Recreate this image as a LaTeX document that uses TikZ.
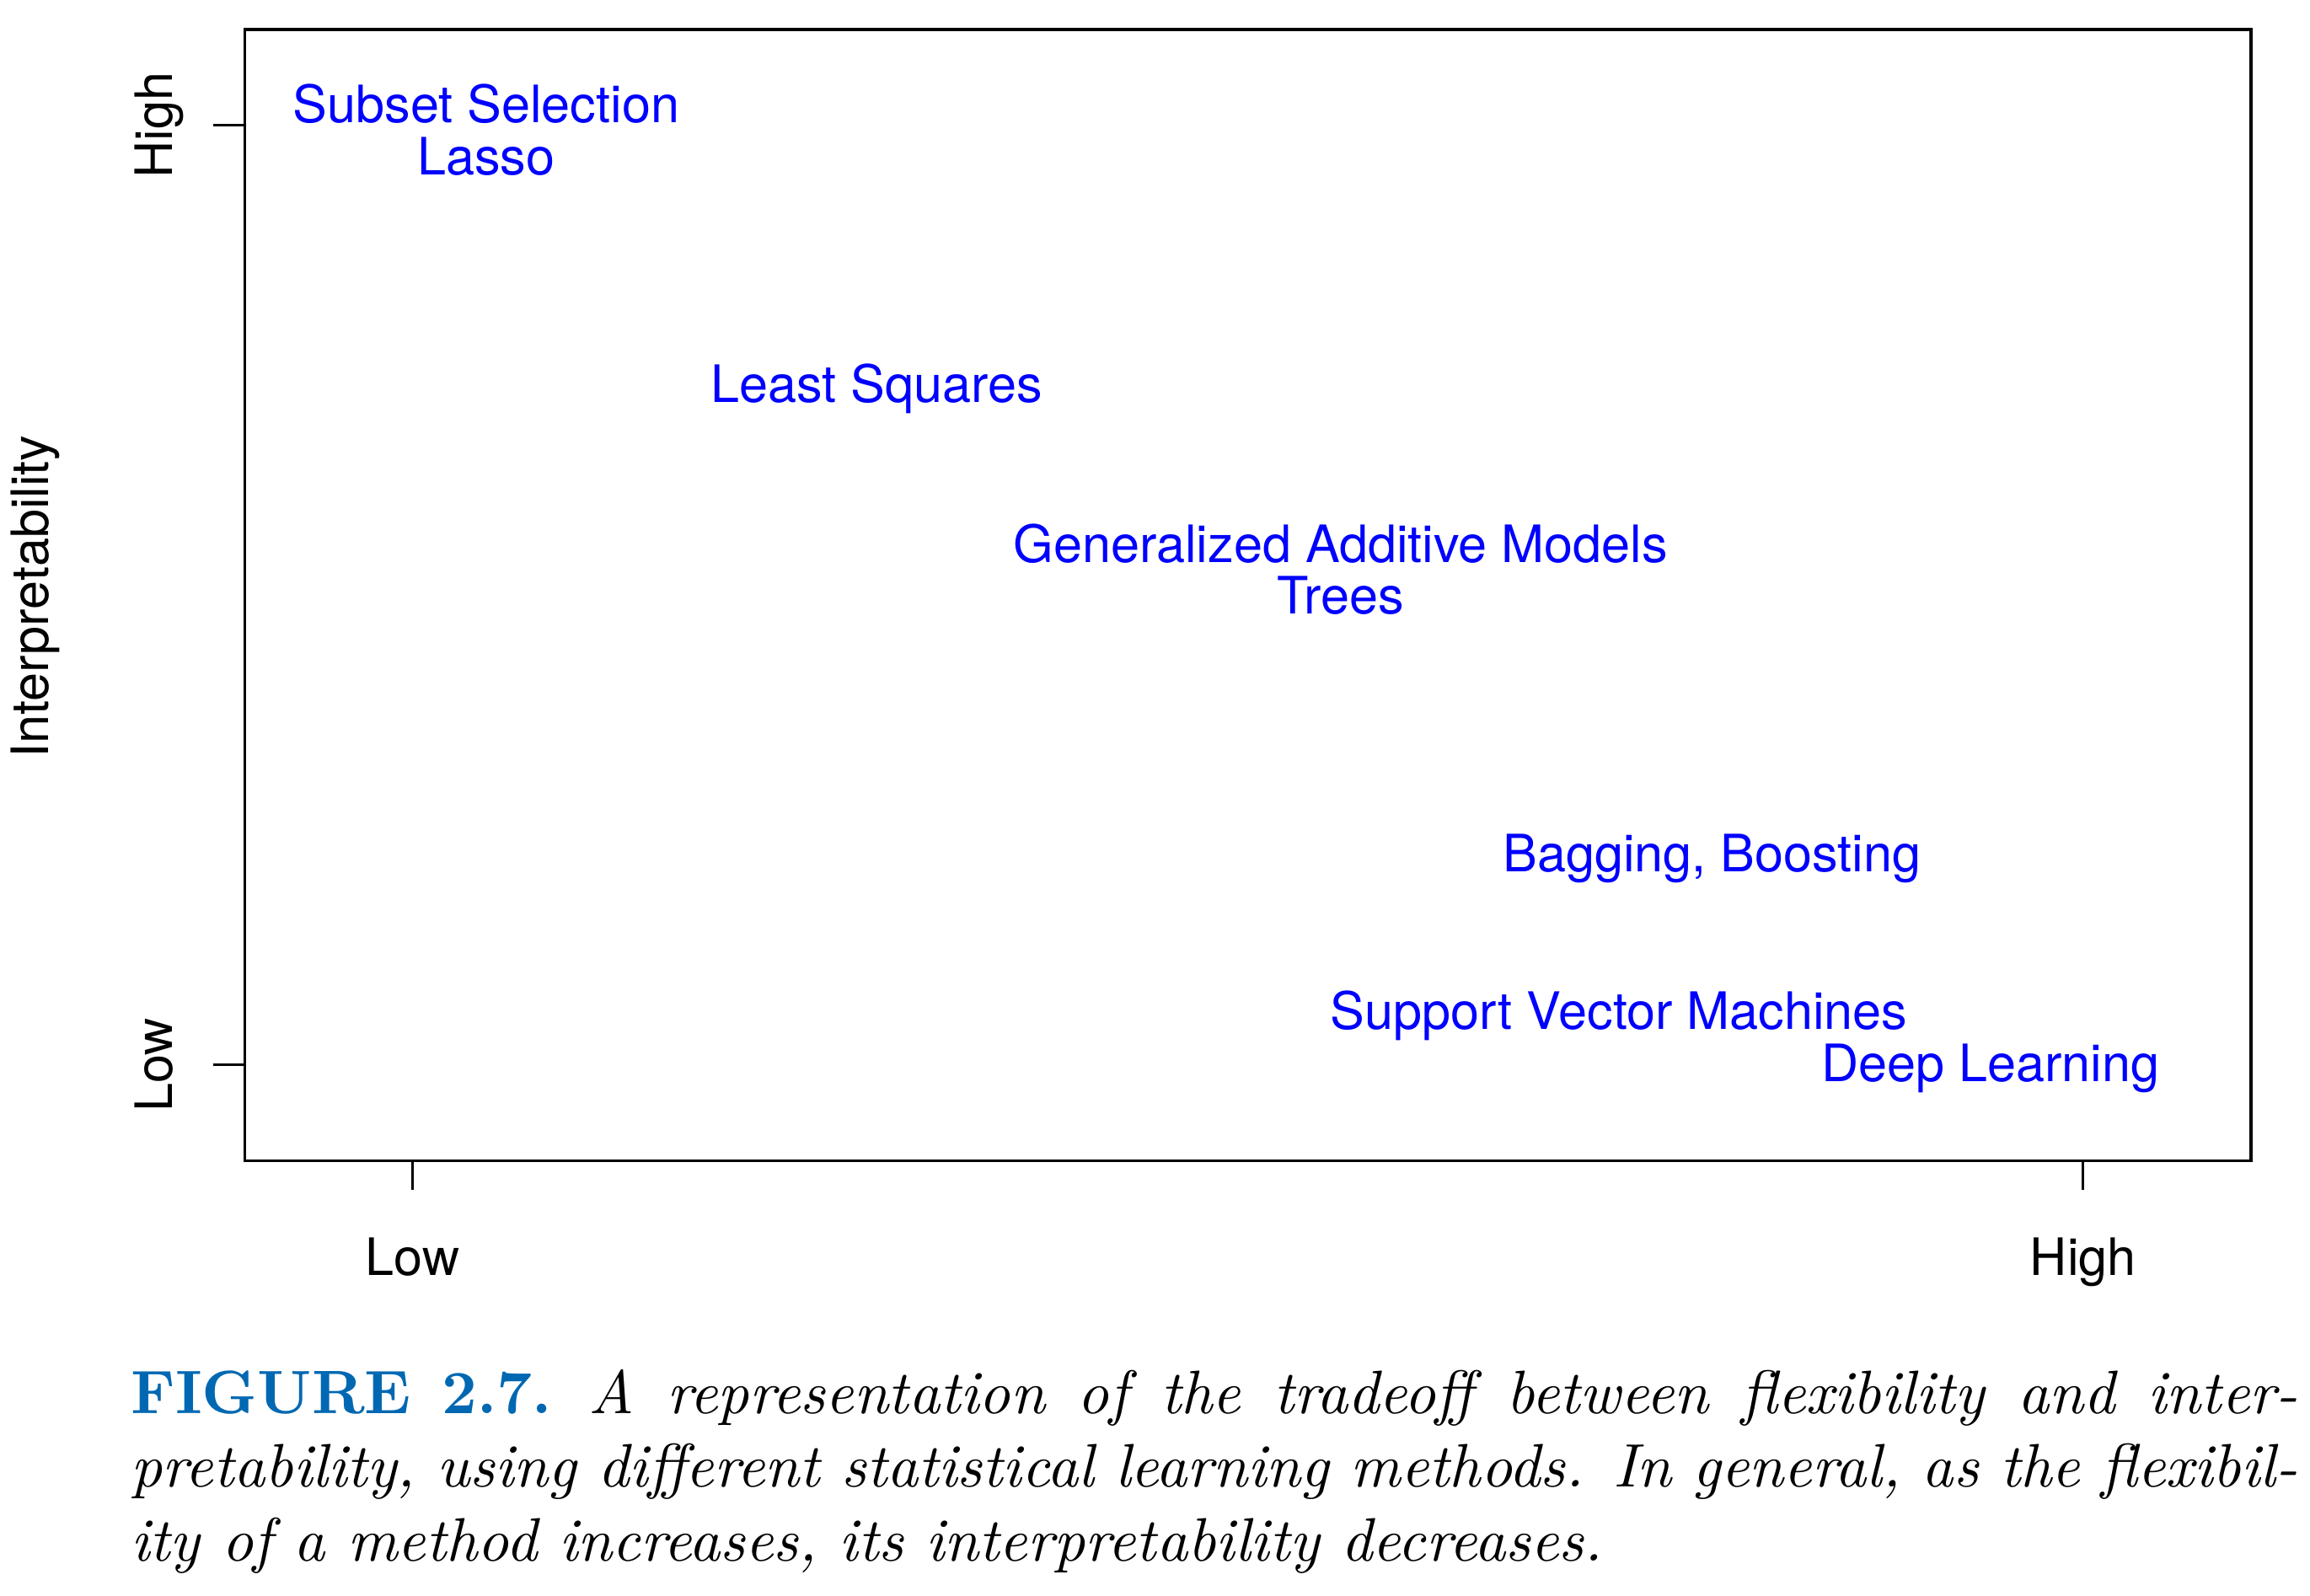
\documentclass[tikz,border=0pt]{standalone}
\usepackage{fontspec}
\newfontfamily\plotfont{TeX Gyre Heros}
\definecolor{figblue}{RGB}{0,104,178}
\begin{document}
\begin{tikzpicture}[
    x=0.24pt,
    y=-0.24pt,
    frame/.style={
        draw=black,
        line width=0.45pt
    },
    method/.style={
        font=\plotfont\fontsize{8.4}{10}\selectfont,
        text=blue,
        inner sep=0pt,
        anchor=base
    },
    axlabel/.style={
        font=\plotfont\fontsize{8.4}{10}\selectfont,
        inner sep=0pt,
        anchor=base
    },
    caption/.style={
        font=\fontsize{10}{12}\selectfont,
        inner sep=0pt,
        anchor=north west,
        text width=353pt,
        align=justify
    }
]
\useasboundingbox (0,0) rectangle (1568,1083);

\draw[frame] (166,20) rectangle (1528,788);
\draw[frame] (145,85) -- (166,85);
\draw[frame] (145,723) -- (166,723);
\draw[frame] (280,788) -- (280,808);
\draw[frame] (1414,788) -- (1414,808);

\node[axlabel, rotate=90] (yhigh) at (117,85) {High};
\node[axlabel, rotate=90] (ylow) at (117,723) {Low};
\node[axlabel, rotate=90] (ylabel) at (33,405) {Interpretability};
\node[axlabel] (xlow) at (280,866) {Low};
\node[axlabel] (xhigh) at (1414,866) {High};

\node[method] (subset) at (330,83) {Subset Selection};
\node[method] (lasso) at (330,119) {Lasso};
\node[method] (ls) at (595,273) {Least Squares};
\node[method] (gam) at (910,382) {Generalized Additive Models};
\node[method] (trees) at (910,417) {Trees};
\node[method] (bagging) at (1162,592) {Bagging, Boosting};
\node[method] (svm) at (1099,699) {Support Vector Machines};
\node[method] (deep) at (1351,734) {Deep Learning};

\node[caption] (cap) at (88,929) {{\color{figblue}\bfseries FIGURE\hspace{5pt}2.7.}\hspace{6pt}\itshape A representation of the tradeoff between flexibility and inter-\linebreak pretability, using different statistical learning methods. In general, as the flexibil-\linebreak ity of a method increases, its interpretability decreases.};

\end{tikzpicture}
\end{document}
